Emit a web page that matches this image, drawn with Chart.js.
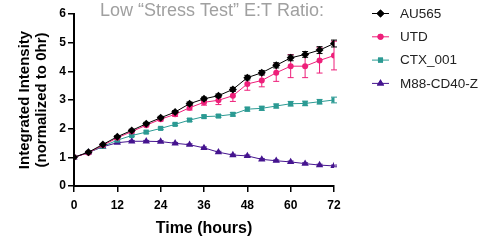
<!DOCTYPE html>
<html>
<head>
<meta charset="utf-8">
<script src="https://cdn.jsdelivr.net/npm/chart.js@4"></script>
<style>
  html, body { margin: 0; padding: 0; background: #fff; }
  #wrap { width: 499px; height: 246px; position: relative; }
</style>
</head>
<body>
<div id="wrap"><canvas id="chart"></canvas></div>
<script>
// time points (hours)
const hours = [0, 4, 8, 12, 16, 20, 24, 28, 32, 36, 40, 44, 48, 52, 56, 60, 64, 68, 72];
const seriesNames = ['AU565', 'UTD', 'CTX_001', 'M88-CD40-Z'];
const chartTitle = 'Low \u201cStress Test\u201d E:T Ratio:';

const au565 = [1.0, 1.18, 1.45, 1.72, 1.94, 2.17, 2.38, 2.58, 2.87, 3.04, 3.15, 3.37, 3.78, 3.95, 4.21, 4.47, 4.59, 4.74, 4.97];
const au565Err = [0, 0.03, 0.03, 0.04, 0.04, 0.05, 0.05, 0.05, 0.06, 0.06, 0.06, 0.07, 0.08, 0.08, 0.09, 0.1, 0.1, 0.12, 0.12];

const utd = [1.0, 1.16, 1.42, 1.68, 1.9, 2.12, 2.33, 2.5, 2.73, 2.92, 2.99, 3.15, 3.56, 3.68, 3.95, 4.18, 4.18, 4.38, 4.55];
const utdErr = [0, 0.03, 0.04, 0.04, 0.05, 0.05, 0.06, 0.07, 0.08, 0.1, 0.15, 0.2, 0.22, 0.22, 0.3, 0.4, 0.4, 0.44, 0.5];

const ctx001 = [1.0, 1.17, 1.38, 1.6, 1.76, 1.88, 2.01, 2.15, 2.3, 2.42, 2.44, 2.5, 2.68, 2.71, 2.79, 2.87, 2.88, 2.94, 3.0];
const ctx001Err = [0, 0.02, 0.03, 0.03, 0.03, 0.04, 0.04, 0.04, 0.05, 0.05, 0.05, 0.06, 0.07, 0.07, 0.07, 0.08, 0.08, 0.08, 0.1];

const m88 = [1.0, 1.17, 1.37, 1.51, 1.56, 1.56, 1.55, 1.49, 1.44, 1.33, 1.18, 1.08, 1.05, 0.93, 0.88, 0.84, 0.78, 0.73, 0.7];
const m88Err = [0, 0.02, 0.02, 0.02, 0.03, 0.03, 0.03, 0.03, 0.03, 0.03, 0.03, 0.03, 0.03, 0.03, 0.03, 0.03, 0.03, 0.03, 0.03];

const colors = ['#000000', '#ee1f7a', '#2b9a93', '#45148f'];
const markers = ['rectRot', 'circle', 'rect', 'triangle'];
const markerSizes = [4, 3, 3.6, 4.2];
const values = [au565, utd, ctx001, m88];
const errors = [au565Err, utdErr, ctx001Err, m88Err];

const FONT = "'Liberation Sans', Arial, sans-serif";

const datasets = seriesNames.map((name, i) => ({
  label: name,
  data: hours.map((h, j) => ({ x: h, y: values[i][j] })),
  err: errors[i],
  borderColor: colors[i],
  backgroundColor: colors[i],
  borderWidth: 1,
  pointStyle: markers[i],
  pointRadius: markerSizes[i],
  pointBorderWidth: 0,
  tension: 0
}));

const errorBars = {
  id: 'errorBars',
  beforeDatasetsDraw(chart) {
    const c = chart.ctx;
    const ys = chart.scales.y;
    c.save();
    c.lineWidth = 1;
    chart.data.datasets.slice().reverse().forEach((ds) => {
      c.strokeStyle = ds.borderColor;
      ds.data.forEach((p, j) => {
        const e = ds.err[j];
        if (!e) return;
        const x = chart.scales.x.getPixelForValue(p.x);
        const top = ys.getPixelForValue(p.y + e);
        const bot = ys.getPixelForValue(p.y - e);
        c.beginPath();
        c.moveTo(x, top); c.lineTo(x, bot);
        c.moveTo(x - 3, top); c.lineTo(x + 3, top);
        c.moveTo(x - 3, bot); c.lineTo(x + 3, bot);
        c.stroke();
      });
    });
    c.restore();
  }
};

const titleAndLegend = {
  id: 'titleAndLegend',
  afterDraw(chart) {
    const c = chart.ctx;
    c.save();
    c.fillStyle = '#a0a0a0';
    c.font = '18px ' + FONT;
    c.textAlign = 'left';
    c.textBaseline = 'middle';
    c.fillText(chartTitle, 100, 11.5);

    const x0 = 372, x1 = 389, tx = 400, y0 = 13.5, dy = 23.3;
    chart.data.datasets.forEach((ds, i) => {
      const y = y0 + i * dy;
      c.strokeStyle = ds.borderColor;
      c.lineWidth = 1;
      c.beginPath(); c.moveTo(x0, y); c.lineTo(x1, y); c.stroke();
      c.fillStyle = ds.borderColor;
      Chart.helpers.drawPoint(c, {
        pointStyle: ds.pointStyle, radius: ds.pointRadius, borderWidth: 0, rotation: 0
      }, (x0 + x1) / 2, y);
      c.fill();
      c.fillStyle = '#222';
      c.font = '13.5px ' + FONT;
      c.fillText(ds.label, tx, y + 0.5);
    });
    c.restore();
  }
};

new Chart(document.getElementById('chart'), {
  type: 'line',
  data: { datasets },
  options: {
    responsive: true,
    maintainAspectRatio: false,
    animation: false,
    layout: { padding: { top: 14, right: 165, left: 0, bottom: 0 } },
    plugins: { legend: { display: false }, tooltip: { enabled: false } },
    scales: {
      x: {
        type: 'linear', min: 0, max: 72,
        ticks: { stepSize: 12, color: '#000', font: { family: FONT, size: 12, weight: 'bold' }, padding: 6 },
        grid: { drawOnChartArea: false, tickLength: 6, color: '#000', lineWidth: 1.5 },
        border: { color: '#000', width: 2 },
        title: { display: true, text: 'Time (hours)', color: '#000', font: { family: FONT, size: 16, weight: 'bold' }, padding: { top: 0, bottom: 8 } },
        afterFit(s) { s.height = 60; }
      },
      y: {
        min: 0, max: 6,
        ticks: { stepSize: 1, color: '#000', font: { family: FONT, size: 12, weight: 'bold' }, padding: 2 },
        grid: { drawOnChartArea: false, tickLength: 6, color: '#000', lineWidth: 1.5 },
        border: { color: '#000', width: 2 },
        title: { display: true, text: ['Integrated Intensity', '(normalized to 0hr)'], color: '#000', font: { family: FONT, size: 15, weight: 'bold', lineHeight: 1.13 }, padding: { top: 16.5, bottom: 0 } },
        afterFit(s) { s.width = 74; }
      }
    }
  },
  plugins: [errorBars, titleAndLegend]
});
</script>
</body>
</html>
